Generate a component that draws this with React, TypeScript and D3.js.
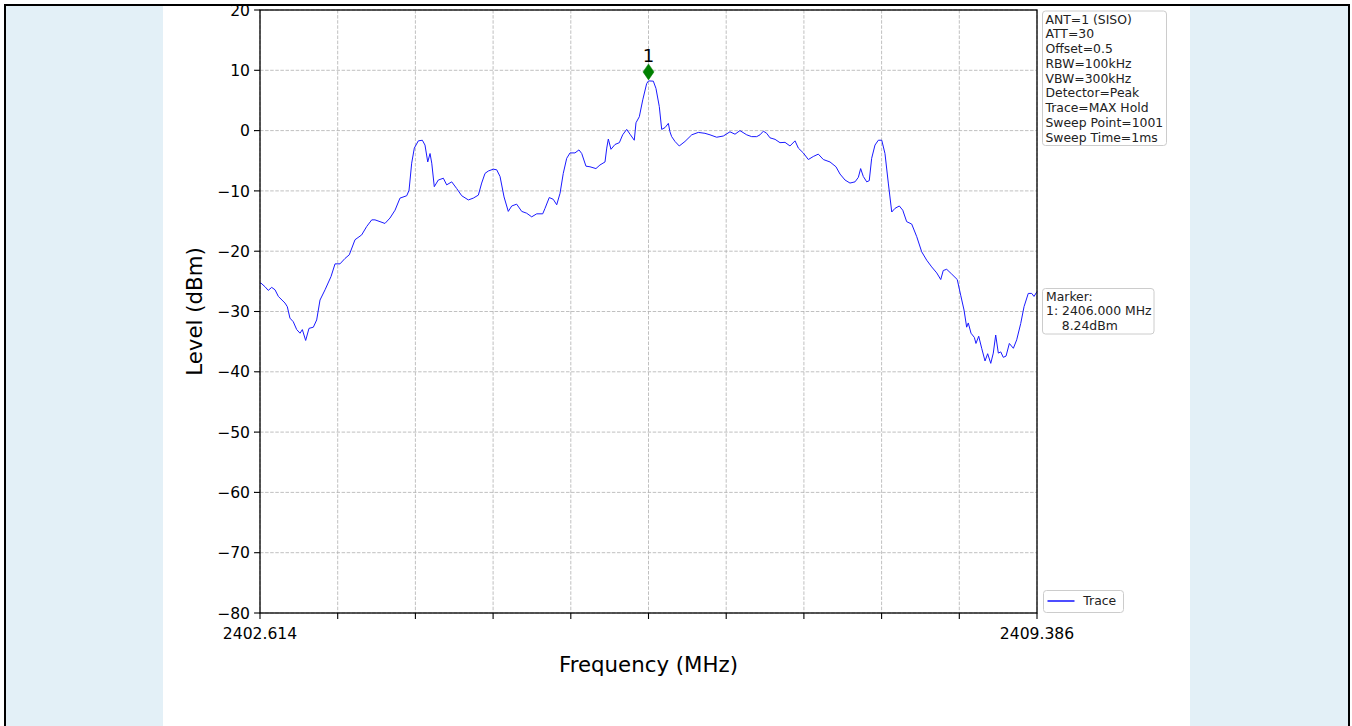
import React from "react";
import * as d3 from "d3";

// ---------- data ----------
const freqMHz: number[] = [
  2402.614, 2402.623, 2402.658, 2402.686, 2402.716, 2402.745, 2402.774, 2402.832, 2402.852, 2402.875,
  2402.904, 2402.934, 2402.963, 2402.983, 2403.012, 2403.041, 2403.079, 2403.108, 2403.137, 2403.181,
  2403.233, 2403.268, 2403.311, 2403.355, 2403.392, 2403.442, 2403.5, 2403.544, 2403.588, 2403.616,
  2403.66, 2403.703, 2403.747, 2403.791, 2403.834, 2403.893, 2403.913, 2403.936, 2403.959, 2403.994,
  2404.029, 2404.052, 2404.076, 2404.096, 2404.111, 2404.133, 2404.168, 2404.212, 2404.241, 2404.285,
  2404.328, 2404.372, 2404.43, 2404.473, 2404.517, 2404.546, 2404.575, 2404.604, 2404.647, 2404.677,
  2404.706, 2404.741, 2404.778, 2404.808, 2404.851, 2404.895, 2404.938, 2404.982, 2405.026, 2405.078,
  2405.098, 2405.135, 2405.17, 2405.2, 2405.229, 2405.257, 2405.287, 2405.316, 2405.359, 2405.394,
  2405.418, 2405.455, 2405.49, 2405.542, 2405.577, 2405.621, 2405.636, 2405.65, 2405.673, 2405.708,
  2405.746, 2405.775, 2405.81, 2405.839, 2405.876, 2405.891, 2405.92, 2405.95, 2405.984, 2406.0,
  2406.042, 2406.065, 2406.094, 2406.115, 2406.144, 2406.173, 2406.187, 2406.202, 2406.231, 2406.268,
  2406.318, 2406.377, 2406.434, 2406.492, 2406.536, 2406.594, 2406.652, 2406.71, 2406.754, 2406.797,
  2406.856, 2406.899, 2406.943, 2406.972, 2407.001, 2407.03, 2407.059, 2407.103, 2407.146, 2407.19,
  2407.233, 2407.277, 2407.306, 2407.349, 2407.393, 2407.436, 2407.48, 2407.524, 2407.582, 2407.634,
  2407.669, 2407.713, 2407.756, 2407.8, 2407.829, 2407.849, 2407.872, 2407.902, 2407.924, 2407.945,
  2407.974, 2408.003, 2408.033, 2408.061, 2408.09, 2408.12, 2408.148, 2408.186, 2408.216, 2408.25,
  2408.294, 2408.338, 2408.381, 2408.425, 2408.468, 2408.512, 2408.547, 2408.569, 2408.599, 2408.643,
  2408.691, 2408.721, 2408.75, 2408.773, 2408.787, 2408.811, 2408.84, 2408.854, 2408.878, 2408.904,
  2408.933, 2408.956, 2408.983, 2409.005, 2409.026, 2409.049, 2409.07, 2409.092, 2409.116, 2409.145,
  2409.18, 2409.209, 2409.244, 2409.273, 2409.31, 2409.34, 2409.36, 2409.386,
];

const levelDbm: number[] = [
  -25.3, -25.3, -25.9, -26.5, -26.0, -26.4, -27.5, -28.6, -29.2, -31.1,
  -31.7, -33.0, -33.6, -33.0, -34.8, -32.8, -32.6, -31.4, -28.1, -26.4,
  -24.2, -22.1, -22.1, -21.2, -20.6, -18.1, -17.3, -15.9, -14.8, -14.8,
  -15.1, -15.4, -14.5, -13.2, -11.2, -10.8, -9.9, -5.4, -2.9, -1.7,
  -1.6, -2.4, -5.2, -3.8, -5.4, -9.3, -8.2, -7.9, -9.0, -8.5,
  -9.6, -10.8, -11.5, -11.2, -10.7, -8.7, -7.1, -6.7, -6.4, -6.5,
  -7.6, -11.0, -13.4, -12.5, -12.2, -13.4, -13.7, -14.3, -13.8, -13.8,
  -12.9, -11.1, -11.4, -12.3, -10.4, -7.1, -4.6, -3.7, -3.7, -3.2,
  -3.8, -5.9, -6.0, -6.3, -5.7, -5.2, -2.9, -1.4, -3.1, -2.3,
  -2.0, -0.7, 0.2, -0.6, -1.6, 1.3, 2.3, 5.1, 7.8, 8.24,
  8.2, 7.0, 4.0, 0.2, 0.5, 1.2, -0.2, -1.0, -1.8, -2.55,
  -1.8, -0.7, -0.3, -0.45, -0.7, -1.1, -0.9, -0.2, -0.6, 0.0,
  -0.7, -1.0, -1.0, -0.7, -0.1, -0.45, -1.2, -1.45, -2.0, -1.95,
  -2.55, -1.7, -2.9, -3.7, -4.8, -4.3, -3.9, -4.8, -5.2, -6.0,
  -7.2, -8.2, -8.7, -8.5, -7.75, -6.3, -7.6, -8.5, -8.3, -4.6,
  -2.4, -1.6, -1.6, -3.8, -8.7, -13.5, -12.9, -12.5, -13.2, -15.1,
  -15.5, -17.6, -20.1, -21.5, -22.6, -23.6, -24.7, -23.2, -23.0, -23.8,
  -24.7, -27.3, -29.75, -32.6, -31.9, -33.6, -34.3, -35.3, -34.1, -36.1,
  -38.2, -37.0, -38.6, -36.9, -33.9, -36.9, -36.7, -37.6, -37.4, -35.3,
  -36.1, -34.7, -32.0, -29.2, -27.0, -27.0, -27.5, -26.7,
];

const freqDomain: number[] = [2402.614, 2409.386];
const levelDomain: number[] = [-80, 20];
const yTickValues: number[] = [20, 10, 0, -10, -20, -30, -40, -50, -60, -70, -80];
const xTickCount = 10; // intervals
const xEdgeLabels: string[] = ["2402.614", "2409.386"];

const markerFreq = 2406.0;
const markerLevel = 8.24;
const markerLabel = "1";

const infoLines: string[] = [
  "ANT=1 (SISO)",
  "ATT=30",
  "Offset=0.5",
  "RBW=100kHz",
  "VBW=300kHz",
  "Detector=Peak",
  "Trace=MAX Hold",
  "Sweep Point=1001",
  "Sweep Time=1ms",
];
const markerLines: string[] = ["Marker:", "1: 2406.000 MHz", "    8.24dBm"];
const legendLabel = "Trace";
const xAxisTitle = "Frequency (MHz)";
const yAxisTitle = "Level (dBm)";

// ---------- layout ----------
const W = 1352;
const H = 726;
const PL = 260;
const PR = 1037;
const PT = 10;
const PB = 613;
const FONT = "'DejaVu Sans', 'Liberation Sans', sans-serif";
const PANEL = "#e3f0f7";

export default function App() {
  const x = d3.scaleLinear().domain(freqDomain).range([PL, PR]);
  const y = d3.scaleLinear().domain(levelDomain).range([PB, PT]);

  const xTicks = d3.range(xTickCount + 1).map(
    (i) => freqDomain[0] + ((freqDomain[1] - freqDomain[0]) * i) / xTickCount
  );

  const pts: [number, number][] = freqMHz.map((f, i) => [f, levelDbm[i]]);
  const line = d3
    .line<[number, number]>()
    .x((d) => x(d[0]))
    .y((d) => y(d[1]))
    .curve(d3.curveLinear);

  const mx = x(markerFreq);
  const my = y(markerLevel) - 9;
  const diamond = `M${mx},${my - 8} L${mx + 5.5},${my} L${mx},${my + 8} L${mx - 5.5},${my} Z`;

  const lineH = 14.75;

  return (
    <svg
      width={W}
      height={H}
      viewBox={`0 0 ${W} ${H}`}
      style={{ position: "absolute", left: 0, top: 0, display: "block", background: "#fff" }}
      fontFamily={FONT}
    >
      {/* side panels */}
      <rect x={6} y={6} width={157} height={H} fill={PANEL} />
      <rect x={1190} y={6} width={158} height={H} fill={PANEL} />
      {/* outer border */}
      <rect x={5} y={5} width={1344} height={H + 50} fill="none" stroke="#000" strokeWidth={2} />

      {/* grid */}
      <g stroke="#b0b0b0" strokeWidth={0.8} strokeDasharray="3.5,1.6">
        {xTicks.map((t, i) => (
          <line key={"gx" + i} x1={x(t)} x2={x(t)} y1={PT} y2={PB} />
        ))}
        {yTickValues.map((t) => (
          <line key={"gy" + t} x1={PL} x2={PR} y1={y(t)} y2={y(t)} />
        ))}
      </g>

      {/* trace */}
      <path d={line(pts) || ""} fill="none" stroke="#1a1aff" strokeWidth={1} strokeLinejoin="round" />

      {/* marker */}
      <path d={diamond} fill="#008000" stroke="#008000" strokeWidth={0.5} />
      <text x={mx} y={my - 10} fontSize={18} textAnchor="middle" fill="#000">
        {markerLabel}
      </text>

      {/* frame */}
      <rect x={PL} y={PT} width={PR - PL} height={PB - PT} fill="none" stroke="#000" strokeWidth={1.3} />

      {/* y ticks */}
      <g fontSize={15.6} fill="#000">
        {yTickValues.map((t) => (
          <g key={"yt" + t}>
            <line x1={PL - 6} x2={PL} y1={y(t)} y2={y(t)} stroke="#000" strokeWidth={1.1} />
            <text x={PL - 10} y={y(t)} dy="0.36em" textAnchor="end">
              {t < 0 ? "\u2212" + Math.abs(t) : String(t)}
            </text>
          </g>
        ))}
      </g>

      {/* x ticks */}
      <g fontSize={15.6} fill="#000">
        {xTicks.map((t, i) => (
          <line key={"xt" + i} x1={x(t)} x2={x(t)} y1={PB} y2={PB + 6} stroke="#000" strokeWidth={1.1} />
        ))}
        <text x={x(freqDomain[0])} y={639} textAnchor="middle">
          {xEdgeLabels[0]}
        </text>
        <text x={x(freqDomain[1])} y={639} textAnchor="middle">
          {xEdgeLabels[1]}
        </text>
      </g>

      {/* axis titles */}
      <text x={(PL + PR) / 2} y={672} fontSize={21.3} textAnchor="middle" fill="#000">
        {xAxisTitle}
      </text>
      <text
        transform={`translate(202, ${(PT + PB) / 2}) rotate(-90)`}
        fontSize={21.3}
        textAnchor="middle"
        fill="#000"
      >
        {yAxisTitle}
      </text>

      {/* info box */}
      <rect x={1042.5} y={11} width={124} height={134.5} rx={3} fill="#fff" fillOpacity={0.85} stroke="#cccccc" strokeWidth={1} />
      <g fontSize={12.4} fill="#222">
        {infoLines.map((s, i) => (
          <text key={"il" + i} x={1045.5} y={23.5 + i * lineH}>
            {s}
          </text>
        ))}
      </g>

      {/* marker box */}
      <rect x={1042.5} y={288.5} width={111.5} height={45.5} rx={3} fill="#fff" fillOpacity={0.85} stroke="#cccccc" strokeWidth={1} />
      <g fontSize={12.4} fill="#222">
        {markerLines.map((s, i) => (
          <text key={"ml" + i} x={1046} y={300.5 + i * 14.5} style={{ whiteSpace: "pre" }}>
            {s}
          </text>
        ))}
      </g>

      {/* legend */}
      <rect x={1043.5} y={590.5} width={80} height={22} rx={3} fill="#fff" fillOpacity={0.85} stroke="#cccccc" strokeWidth={1} />
      <line x1={1047.5} x2={1074.5} y1={601} y2={601} stroke="#0000ff" strokeWidth={1.4} />
      <text x={1083.3} y={605.3} fontSize={12.4} fill="#222">
        {legendLabel}
      </text>
    </svg>
  );
}
